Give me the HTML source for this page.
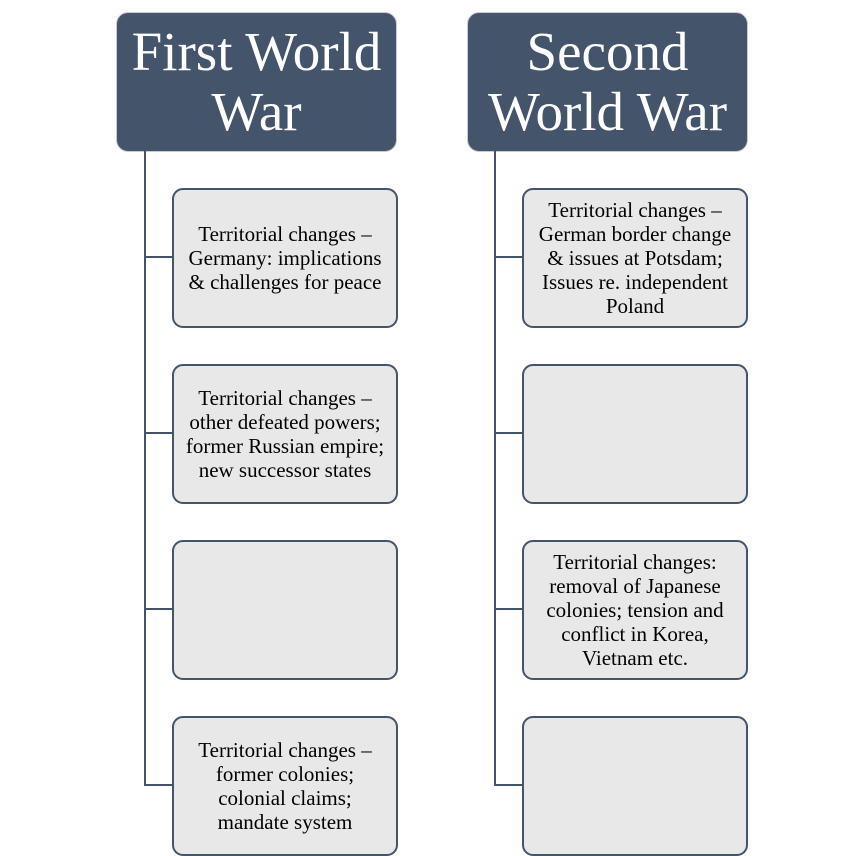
<!DOCTYPE html>
<html><head><style>
body{margin:0;width:864px;height:856px;background:#fff;position:relative;font-family:"Liberation Serif",serif;overflow:hidden}
.h{position:absolute;top:12px;width:279px;height:138px;background:#44546a;border:1px solid #c8ccd2;border-radius:12px;color:#fff;font-size:55px;line-height:60px;text-align:center;display:flex;align-items:center;justify-content:center;white-space:nowrap}
.b{position:absolute;width:222px;height:136px;background:#e8e8e8;border:2px solid #44546a;border-radius:11px;box-sizing:content-box;display:flex;align-items:center;justify-content:center;text-align:center;font-size:21px;line-height:24px;color:#000;white-space:nowrap}
.v{position:absolute;width:2px;background:#44546a}
.c{position:absolute;height:2px;background:#44546a}
</style></head><body>
<div class="h" style="left:116px">First World<br>War</div>
<div class="h" style="left:467px">Second<br>World War</div>
<div class="v" style="left:144px;top:150px;height:636px"></div>
<div class="v" style="left:494px;top:150px;height:636px"></div>
<div class="c" style="left:144px;top:256px;width:30px"></div>
<div class="c" style="left:144px;top:432px;width:30px"></div>
<div class="c" style="left:144px;top:608px;width:30px"></div>
<div class="c" style="left:144px;top:784px;width:30px"></div>
<div class="c" style="left:494px;top:256px;width:30px"></div>
<div class="c" style="left:494px;top:432px;width:30px"></div>
<div class="c" style="left:494px;top:608px;width:30px"></div>
<div class="c" style="left:494px;top:784px;width:30px"></div>
<div class="b" style="left:172px;top:188px">Territorial changes –<br>Germany: implications<br>&amp; challenges for peace</div>
<div class="b" style="left:172px;top:364px">Territorial changes –<br>other defeated powers;<br>former Russian empire;<br>new successor states</div>
<div class="b" style="left:172px;top:540px"></div>
<div class="b" style="left:172px;top:716px">Territorial changes –<br>former colonies;<br>colonial claims;<br>mandate system</div>
<div class="b" style="left:522px;top:188px">Territorial changes –<br>German border change<br>&amp; issues at Potsdam;<br>Issues re. independent<br>Poland</div>
<div class="b" style="left:522px;top:364px"></div>
<div class="b" style="left:522px;top:540px">Territorial changes:<br>removal of Japanese<br>colonies; tension and<br>conflict in Korea,<br>Vietnam etc.</div>
<div class="b" style="left:522px;top:716px"></div>
</body></html>
